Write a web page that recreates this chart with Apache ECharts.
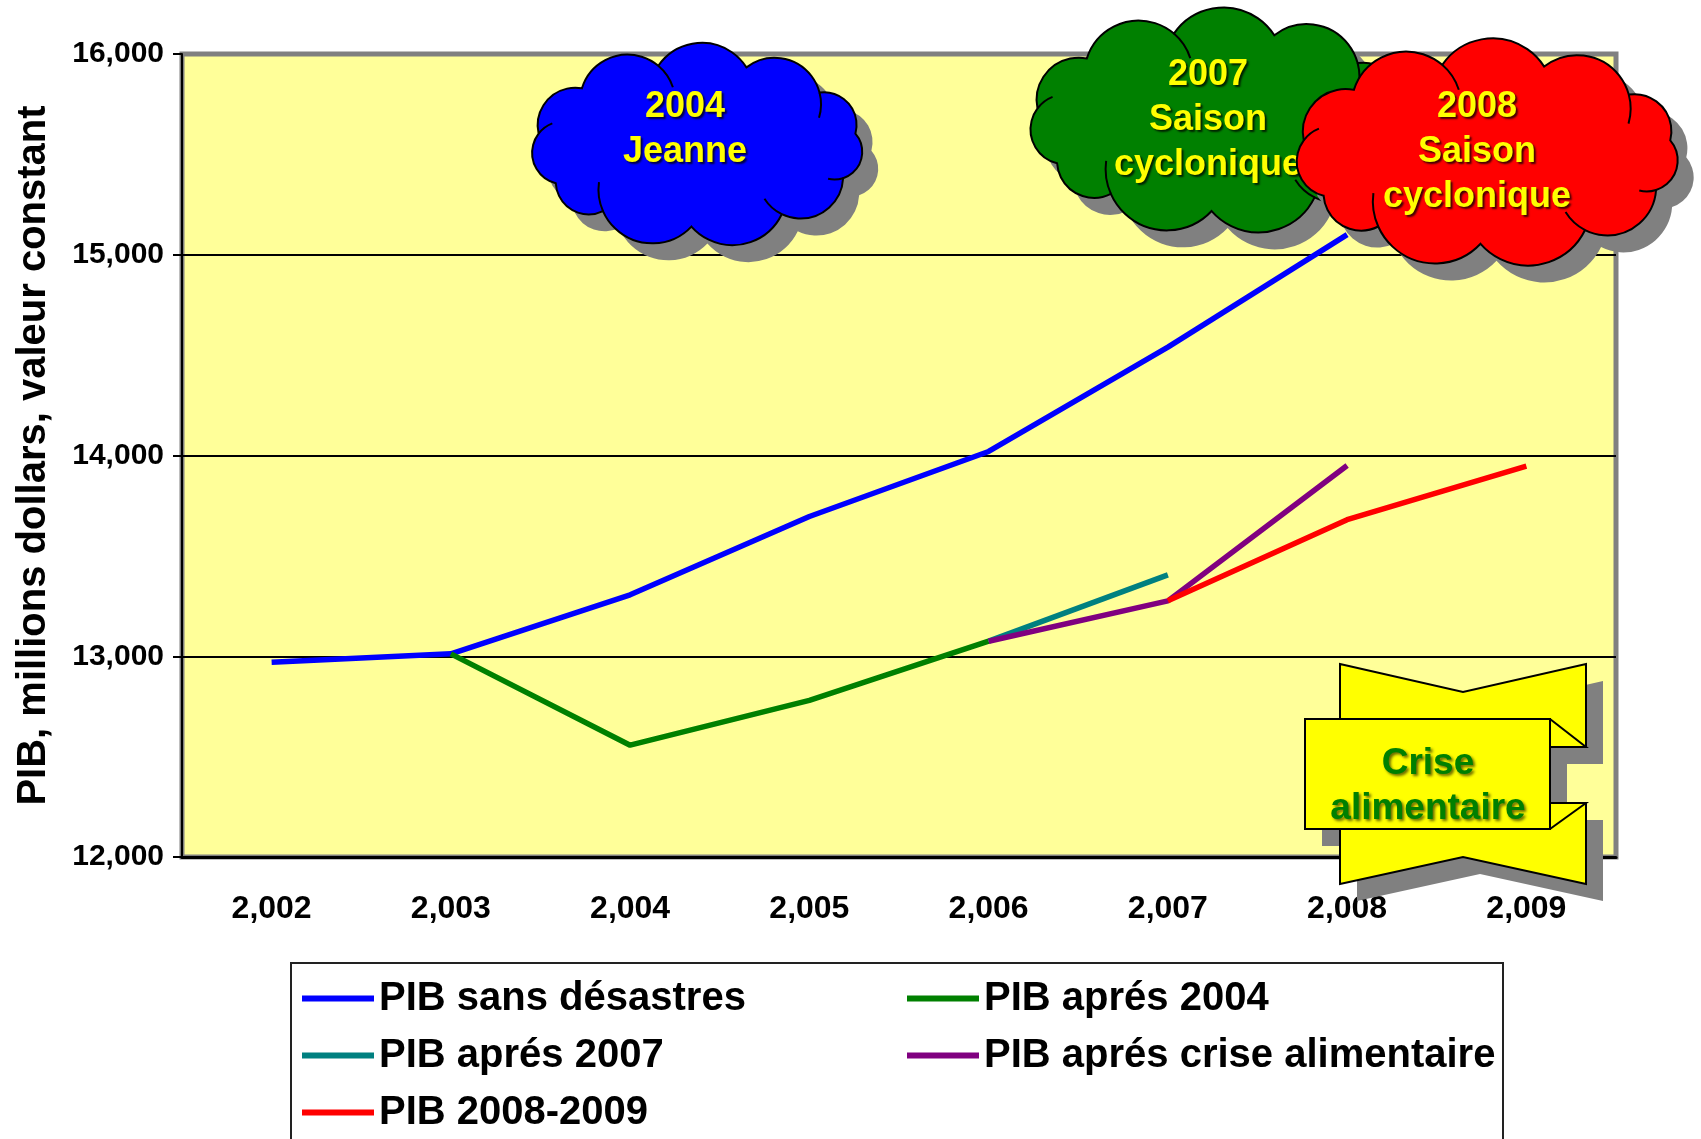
<!DOCTYPE html>
<html>
<head>
  <meta charset="utf-8">
  <title>PIB</title>
  <script src="https://cdn.jsdelivr.net/npm/echarts@6/dist/echarts.min.js"></script>
</head>
<body style="margin:0;background:#fff">
<div id="main" style="width:1701px;height:1139px"></div>
<script type="text/javascript">
  // données
  var years = ['2,002', '2,003', '2,004', '2,005', '2,006', '2,007', '2,008', '2,009'];
  var yTicks = [12000, 13000, 14000, 15000, 16000];
  var pibSansDesastres = [12970, 13012, 13306, 13696, 14020, 14540, 15100, null];
  var pibApres2004 = [null, 13012, 12557, 12780, 13075, null, null, null];
  var pibApres2007 = [null, null, null, null, 13075, 13405, null, null];
  var pibApresCrise = [null, null, null, null, 13075, 13276, 13950, null];
  var pib20082009 = [null, null, null, null, null, 13276, 13680, 13947];

  var seriesNames = ['PIB sans désastres', 'PIB aprés 2004', 'PIB aprés 2007', 'PIB aprés crise alimentaire', 'PIB 2008-2009'];
  var seriesColors = ['#0000ff', '#008000', '#008080', '#800080', '#ff0000'];
  var seriesData = [pibSansDesastres, pibApres2004, pibApres2007, pibApresCrise, pib20082009];

  var FONT = "'Liberation Sans', Arial, sans-serif";
  var NARROW = "'Liberation Sans Narrow', 'Arial Narrow', " + FONT;

  // nuage façon Office : des arcs le long d'une ellipse
  var cloudAngles = [-172, -136, -104, -72, -40, -8, 24, 58, 92, 126, 152];
  var innerArcs = [1, 3, 5, 6, 8, 10];
  function cloudShape(cx, cy, hw, hh) {
    var rx = hw * 0.93, ry = hh * 0.77;
    var pts = cloudAngles.map(function (a) {
      var t = a * Math.PI / 180;
      return [cx + rx * Math.cos(t), cy + ry * Math.sin(t)];
    });
    var d = 'M' + pts[0][0] + ' ' + pts[0][1];
    var inner = '';
    for (var i = 0; i < pts.length; i++) {
      var p1 = pts[i], p2 = pts[(i + 1) % pts.length];
      var dx = p2[0] - p1[0], dy = p2[1] - p1[1];
      var c = Math.sqrt(dx * dx + dy * dy);
      var r = c * 0.6;
      d += ' A' + r + ' ' + r + ' 0 0 1 ' + p2[0] + ' ' + p2[1];
      if (innerArcs.indexOf(i) >= 0) {
        // prolongement de l'arc vers l'intérieur
        var mx = (p1[0] + p2[0]) / 2, my = (p1[1] + p2[1]) / 2;
        var nx = -dy / c, ny = dx / c;
        var h = Math.sqrt(r * r - c * c / 4);
        var ox = mx + nx * h, oy = my + ny * h;
        var a2 = Math.atan2(p2[1] - oy, p2[0] - ox) + 0.55;
        var qx = ox + r * Math.cos(a2), qy = oy + r * Math.sin(a2);
        inner += 'M' + p2[0] + ' ' + p2[1] + ' A' + r + ' ' + r + ' 0 0 1 ' + qx + ' ' + qy + ' ';
      }
    }
    return { outline: d + ' Z', inner: inner };
  }

  function cloud(cx, cy, hw, hh, color, text, tx, ty) {
    var s = cloudShape(cx, cy, hw, hh);
    return [
      { type: 'path', x: 16, y: 17, shape: { pathData: s.outline }, style: { fill: '#808080' } },
      { type: 'path', shape: { pathData: s.outline }, style: { fill: color, stroke: '#000', lineWidth: 2 } },
      { type: 'path', shape: { pathData: s.inner }, style: { fill: null, stroke: '#000', lineWidth: 2 } },
      {
        type: 'text', x: tx, y: ty,
        style: {
          text: text, fill: '#ffff00', fontSize: 36, fontWeight: 'bold', fontFamily: FONT,
          align: 'center', verticalAlign: 'middle', lineHeight: 45,
          textShadowColor: 'rgba(0,0,0,0.75)', textShadowBlur: 2, textShadowOffsetX: 2, textShadowOffsetY: 2
        }
      }
    ];
  }

  function ribbon() {
    var up = [[1340, 664], [1463, 692], [1586, 664], [1586, 747], [1340, 747]];
    var low = [[1340, 803], [1586, 803], [1586, 884], [1463, 857], [1340, 884]];
    var front = [[1305, 719], [1550, 719], [1550, 829], [1305, 829]];
    var els = [];
    [up, low, front].forEach(function (p) {
      els.push({ type: 'polygon', x: 17, y: 17, shape: { points: p }, style: { fill: '#808080' } });
    });
    [up, low, front].forEach(function (p) {
      els.push({ type: 'polygon', shape: { points: p }, style: { fill: '#ffff00', stroke: '#000', lineWidth: 2 } });
    });
    els.push({ type: 'polyline', shape: { points: [[1550, 719], [1586, 747], [1550, 747]] }, style: { fill: null, stroke: '#000', lineWidth: 2 } });
    els.push({ type: 'polyline', shape: { points: [[1550, 829], [1586, 803], [1550, 803]] }, style: { fill: null, stroke: '#000', lineWidth: 2 } });
    els.push({
      type: 'text', x: 1428, y: 786,
      style: {
        text: 'Crise\nalimentaire', fill: '#008000', fontSize: 37, fontWeight: 'bold', fontFamily: FONT,
        align: 'center', verticalAlign: 'middle', lineHeight: 45,
        textShadowColor: 'rgba(0,0,0,0.6)', textShadowBlur: 3, textShadowOffsetX: 2, textShadowOffsetY: 2
      }
    });
    return els;
  }

  var myChart = echarts.init(document.getElementById('main'));

  var legendText = { fontSize: 40, fontWeight: 'bold', fontFamily: FONT, color: '#000', lineHeight: 45 };
  var legendBase = {
    orient: 'vertical', top: 976, padding: 0, itemGap: 12, itemWidth: 72, itemHeight: 6, icon: 'rect',
    textStyle: legendText, selectedMode: false
  };

  var lineSeries = seriesNames.map(function (n, i) {
    return {
      name: n, type: 'line', data: seriesData[i],
      symbol: 'none', connectNulls: false,
      lineStyle: { color: seriesColors[i], width: 5.5 },
      itemStyle: { color: seriesColors[i] }
    };
  });

  // annotations (nuages et ruban) par-dessus les courbes
  var annotations = {
    type: 'custom',
    coordinateSystem: 'none',
    z: 10,
    silent: true,
    data: [0],
    renderItem: function () {
      return {
        type: 'group',
        children: [].concat(
          cloud(697, 145, 172, 106, '#0000ff', '2004\nJeanne', 685, 130),
          cloud(1218, 121, 196, 117, '#008000', '2007\nSaison\ncyclonique', 1208, 120),
          cloud(1487, 153, 199, 118, '#ff0000', '2008\nSaison\ncyclonique', 1477, 152),
          ribbon()
        )
      };
    }
  };

  var option = {
    animation: false,
    backgroundColor: '#fff',
    grid: {
      left: 182, top: 54, width: 1434, height: 803,
      show: true, backgroundColor: '#ffff99', borderColor: '#808080', borderWidth: 5,
      outerBoundsMode: 'none'
    },
    legend: [
      Object.assign({ left: 302, data: [seriesNames[0], seriesNames[2], seriesNames[4]] }, legendBase),
      Object.assign({ left: 907, data: [seriesNames[1], seriesNames[3]] }, legendBase)
    ],
    xAxis: {
      type: 'category',
      data: years,
      boundaryGap: true,
      axisLine: { lineStyle: { color: '#000', width: 3 } },
      axisTick: { length: 11, lineStyle: { color: '#000', width: 2 } },
      axisLabel: { interval: 0, margin: 36, color: '#000', fontSize: 32, fontWeight: 'bold', fontFamily: NARROW }
    },
    yAxis: {
      type: 'value',
      min: yTicks[0], max: yTicks[yTicks.length - 1], interval: 1000,
      name: 'PIB, millions dollars, valeur constant',
      nameLocation: 'middle', nameGap: 128,
      nameTextStyle: { fontSize: 40, fontWeight: 'bold', fontFamily: FONT, color: '#000' },
      axisLine: { show: true, lineStyle: { color: '#000', width: 2 } },
      axisTick: { show: true, length: 9, lineStyle: { color: '#000', width: 2 } },
      axisLabel: {
        margin: 18, color: '#000', fontSize: 30, fontWeight: 'bold', fontFamily: NARROW,
        formatter: function (v) { return v.toLocaleString('en-US'); }
      },
      splitLine: { show: true, showMinLine: false, showMaxLine: false, lineStyle: { color: '#000', width: 2 } }
    },
    series: lineSeries.concat([annotations]),
    graphic: {
      elements: [
        { type: 'rect', z: 1, shape: { x: 291, y: 963, width: 1212, height: 200 }, style: { fill: null, stroke: '#222', lineWidth: 2 } }
      ]
    }
  };
  myChart.setOption(option);
</script>
</body>
</html>
